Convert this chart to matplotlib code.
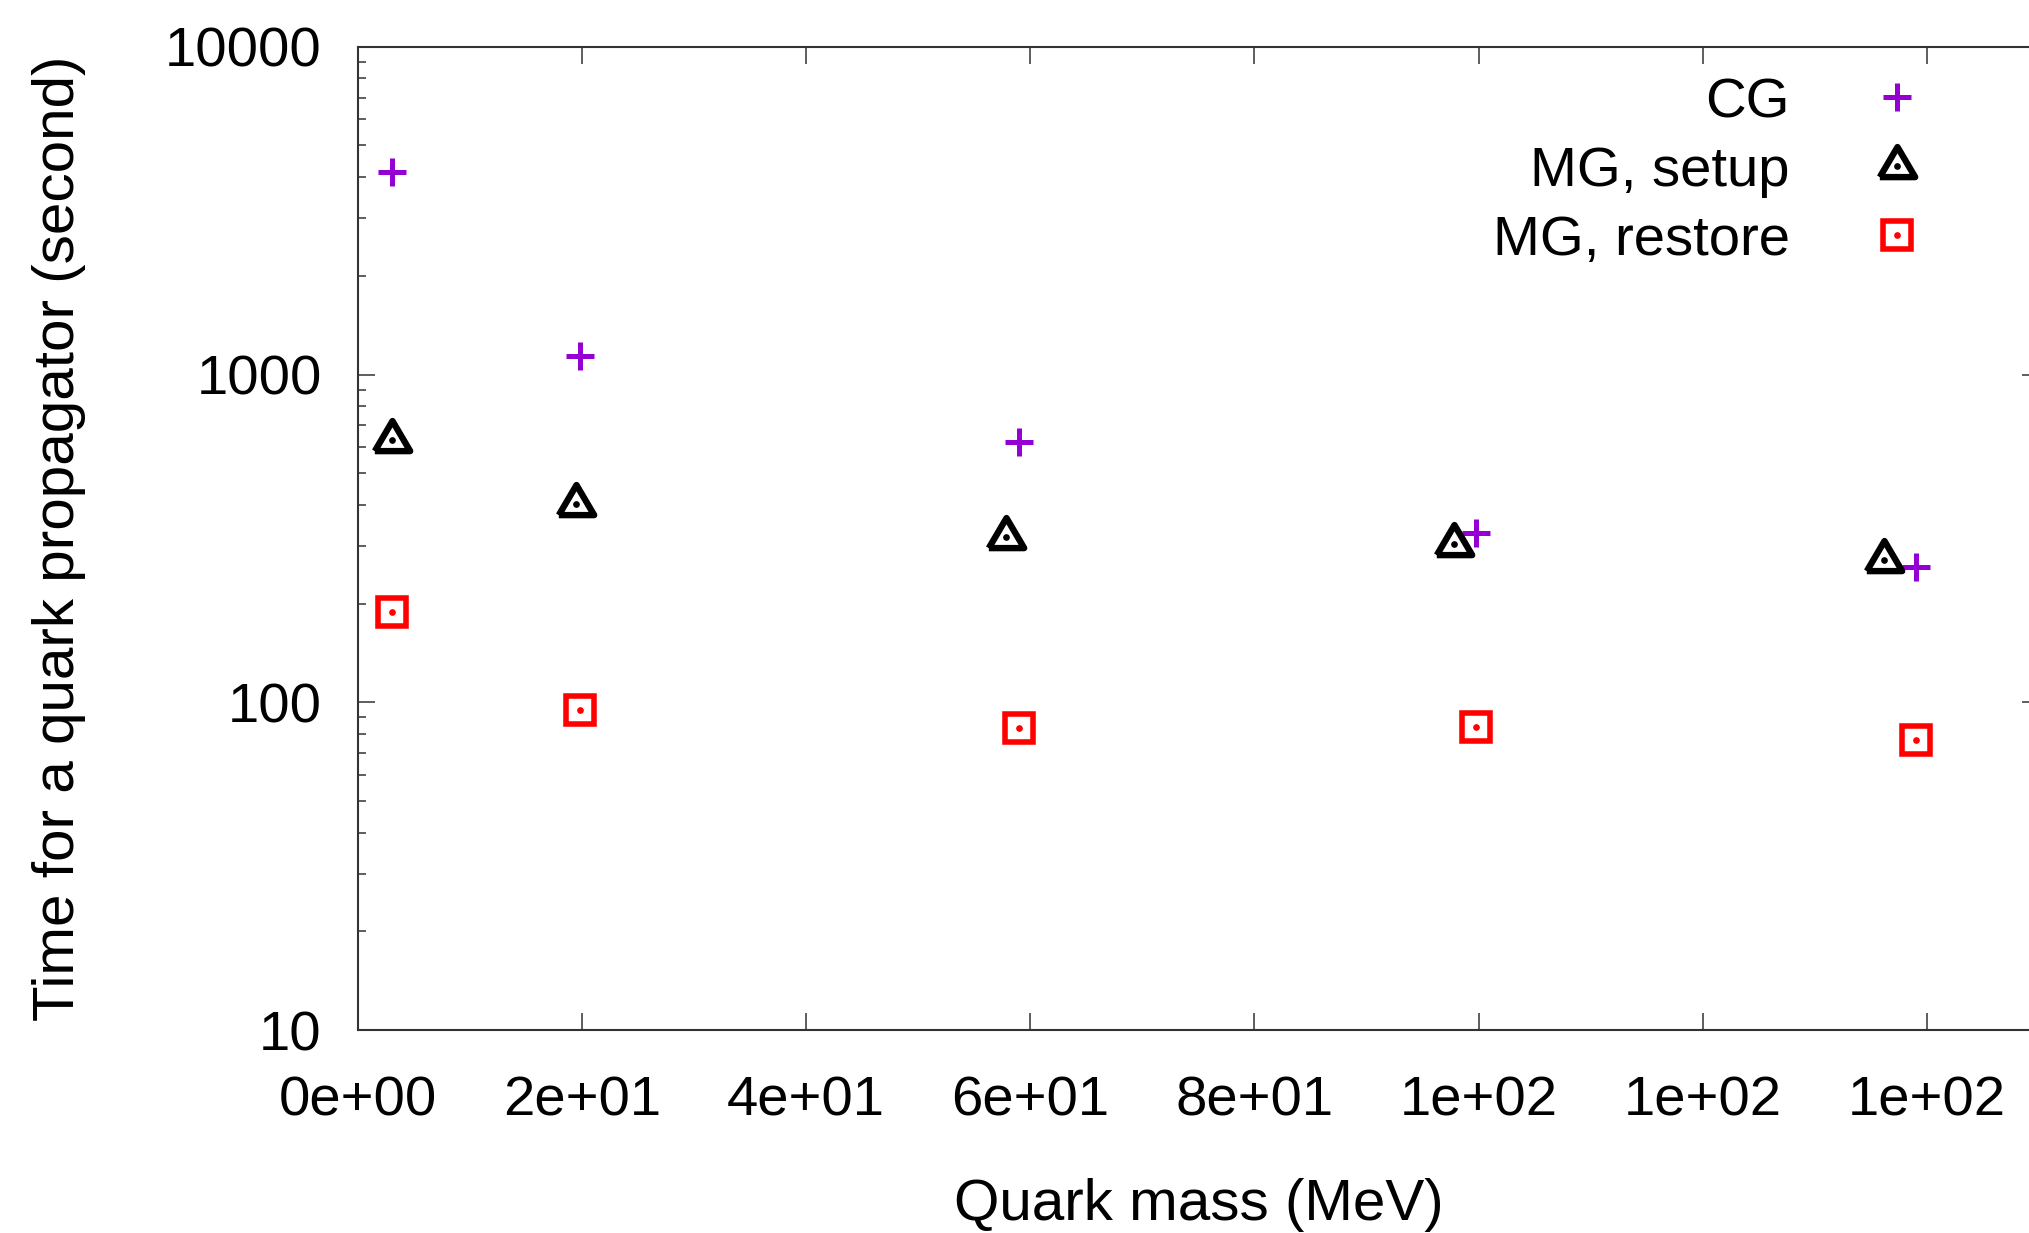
import matplotlib
matplotlib.use('Agg')
import matplotlib.pyplot as plt
from matplotlib.ticker import FixedLocator, LogLocator, NullFormatter, FormatStrFormatter

# quark masses (MeV) and times (seconds)
mass_cg = [3.0, 19.8, 59.0, 99.8, 139.0]
time_cg = [4150, 1135, 624, 328, 259]
mass_setup = [3.0, 19.5, 57.8, 97.8, 136.2]
time_setup = [629, 403, 319, 305, 271]
mass_restore = [3.0, 19.8, 59.0, 99.8, 139.0]
time_restore = [189, 94.6, 83.4, 84.1, 76.9]

xticks = [0, 20, 40, 60, 80, 100, 120, 140]

plt.rcParams['font.family'] = ['Liberation Sans', 'DejaVu Sans']
axcol = '#333333'

# triangle centred on its centroid, like gnuplot's open triangle
tri = [(-1, -0.6), (1, -0.6), (0, 1.1), (-1, -0.6)]

fig = plt.figure(figsize=(20.29, 12.33), dpi=100)
ax = fig.add_axes([0.1764, 0.1646, 0.8285, 0.7975])

cg, = ax.plot(mass_cg, time_cg, ls='none', marker='+', ms=19.5, mew=3.6,
              color='#9400D3', label='CG')
st, = ax.plot(mass_setup, time_setup, ls='none', marker=tri, ms=28, mew=4.6,
              mfc='none', mec='black', label='MG, setup')
st_dot, = ax.plot(mass_setup, time_setup, ls='none', marker='o', ms=3.8,
                  color='black')
rs, = ax.plot(mass_restore, time_restore, ls='none', marker='s', ms=19.5, mew=4.0,
              mfc='none', mec='red', label='MG, restore')
rs_dot, = ax.plot(mass_restore, time_restore, ls='none', marker='o', ms=3.8,
                  color='red')

ax.set_yscale('log')
ax.set_ylim(10, 10000)
ax.set_xlim(0, 150)
ax.xaxis.set_major_locator(FixedLocator(xticks))
ax.xaxis.set_major_formatter(FormatStrFormatter('%.0e'))
ax.yaxis.set_major_locator(FixedLocator([10, 100, 1000, 10000]))
ax.yaxis.set_major_formatter(FormatStrFormatter('%d'))
ax.yaxis.set_minor_locator(LogLocator(base=10, subs=range(2, 10)))
ax.yaxis.set_minor_formatter(NullFormatter())

ax.tick_params(which='both', direction='in', top=True, right=True, colors=axcol,
               labelcolor='black', width=1.1)
ax.tick_params(which='major', length=12.5, labelsize=40.5)
ax.tick_params(axis='x', which='major', pad=33)
ax.tick_params(axis='y', which='major', pad=26)
ax.tick_params(which='minor', length=6)
for s in ax.spines.values():
    s.set_color(axcol)
    s.set_linewidth(1.5)

ax.set_xlabel('Quark mass (MeV)', fontsize=42, labelpad=36)
ax.set_ylabel('Time for a quark propagator (second)', fontsize=42, labelpad=57)

ax.legend([cg, (st, st_dot), (rs, rs_dot)], ['CG', 'MG, setup', 'MG, restore'],
          loc='upper right', bbox_to_anchor=(0.949, 0.9375),
          bbox_transform=fig.transFigure, frameon=False, markerfirst=False,
          fontsize=40.5, handlelength=1.0, handletextpad=1.41,
          borderpad=0, borderaxespad=0, labelspacing=0.3)

fig.savefig('out.png', dpi=100)
